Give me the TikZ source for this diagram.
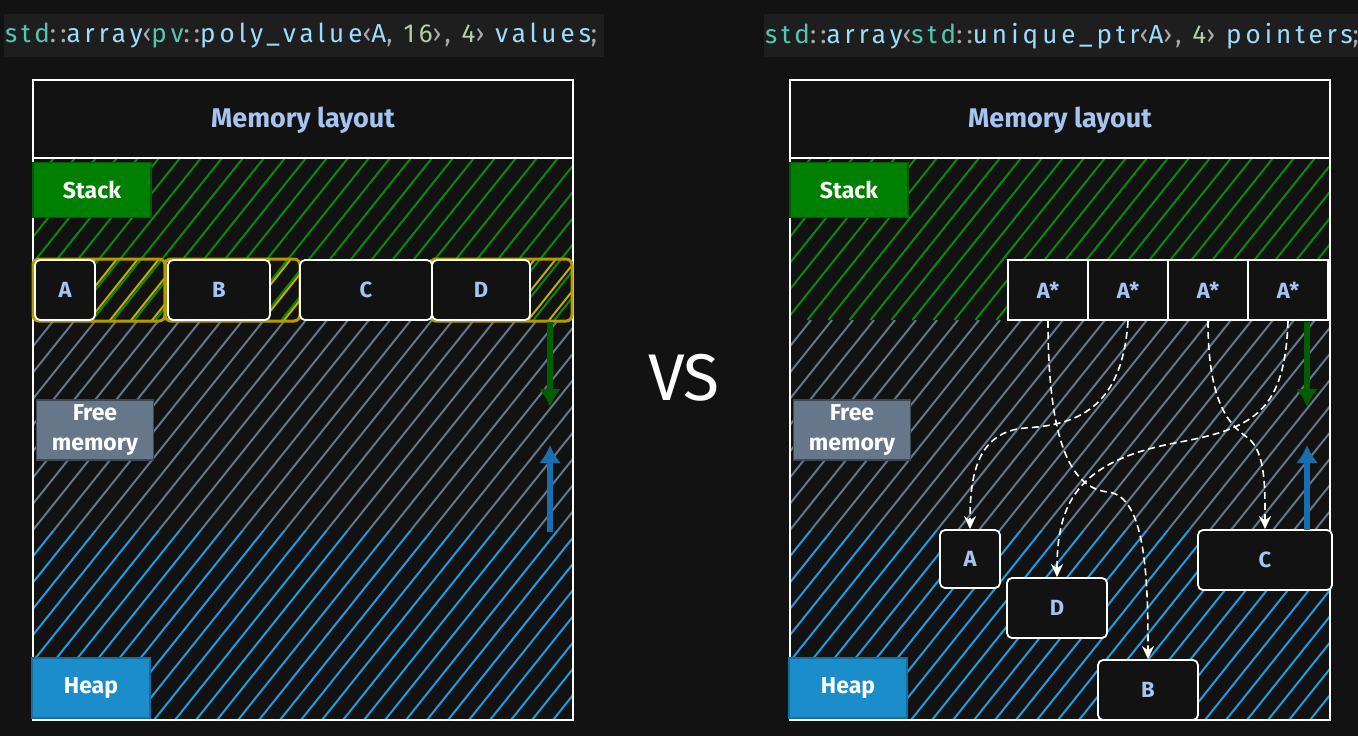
\documentclass[tikz,border=0pt]{standalone}
\usepackage{fontspec}
\setmainfont{Fira Sans}
\newfontfamily\codefont[LetterSpace=15.6]{Fira Sans}
\usetikzlibrary{arrows.meta,positioning}

\definecolor{bgdark}{HTML}{121212}
\definecolor{codebg}{HTML}{1E1E1E}
\definecolor{cteal}{HTML}{4EC9B0}
\definecolor{cblue}{HTML}{9CDCFE}
\definecolor{cnum}{HTML}{B5CEA8}
\definecolor{cpunct}{HTML}{A8A8A8}
\definecolor{lblblue}{HTML}{A5C4F0}
\definecolor{stackgreen}{HTML}{008000}
\definecolor{hatchgreen}{HTML}{0A8A0A}
\definecolor{freegrey}{HTML}{66778A}
\definecolor{heapblue}{HTML}{1E9DE0}
\definecolor{olive}{HTML}{B59A00}
\definecolor{upblue}{HTML}{1A6EAE}
\definecolor{downgreen}{HTML}{006000}

% diagonal strokes clipped to a box: colour, x1, y1, x2, y2
\newcommand{\hatchzone}[5]{%
  \begin{scope}
    \clip (#2,#3) rectangle (#4,#5);
    \pgfmathsetmacro{\hh}{#5-#3}
    \foreach \i in {0,...,40}
      \draw[#1, line width=2pt] ({#2-0.8*\hh+\i*21},#5) -- ++({0.8*\hh},{-\hh});
  \end{scope}}

\tikzset{
  frame/.style={draw=white, line width=1.6pt},
  lbl/.style={text=white, font=\bfseries\fontsize{23}{30}\selectfont, align=center, inner sep=0pt, line width=1.5pt},
  cell/.style={draw=white, line width=1.8pt, fill=bgdark, rounded corners=5pt, text=lblblue,
    font=\bfseries\fontsize{22}{26}\selectfont, inner sep=0pt, minimum height=60pt},
  ptrcell/.style={cell, rounded corners=0pt},
  slot/.style={draw=olive, line width=3pt, rounded corners=6pt},
  ptr/.style={draw=white, line width=1.6pt, dash pattern=on 7pt off 4pt, -{Stealth[length=13pt,width=12pt]}},
  growarrow/.style={line width=6pt, -{Latex[length=18pt,width=22pt]}},
  codeline/.style={anchor=west, inner sep=0pt, font=\codefont\fontsize{26}{30}\selectfont},
}

\begin{document}
\begin{tikzpicture}[x=1pt,y=-1pt]
  \useasboundingbox (0,0) rectangle (1358,736);
  \fill[bgdark] (0,0) rectangle (1358,736);

  % code lines
  \fill[codebg] (4,14) rectangle (604,57);
  \fill[codebg] (764,14) rectangle (1358,57);
  \node (codel) [codeline] at (5,36) {{\color{cteal}std}{\color{cpunct}::}{\color{cblue}array}{\color{cpunct}‹}{\color{cteal}pv}{\color{cpunct}::}{\color{cblue}poly\_value}{\color{cpunct}‹}{\color{cblue}A}{\color{cpunct},} {\color{cnum}16}{\color{cpunct}›,} {\color{cnum}4}{\color{cpunct}›} {\color{cblue}values}{\color{cpunct};}};
  \node (coder) [codeline] at (765,36) {{\color{cteal}std}{\color{cpunct}::}{\color{cblue}array}{\color{cpunct}‹}{\color{cteal}std}{\color{cpunct}::}{\color{cblue}unique\_ptr}{\color{cpunct}‹}{\color{cblue}A}{\color{cpunct}›,} {\color{cnum}4}{\color{cpunct}›} {\color{cblue}pointers}{\color{cpunct};}};

  % both memory panels
  \foreach \ox in {0,757} {
    \hatchzone{hatchgreen}{33+\ox}{158}{573+\ox}{320}
    \hatchzone{freegrey}{33+\ox}{320}{573+\ox}{530}
    \hatchzone{heapblue}{33+\ox}{530}{573+\ox}{720}
    \draw[frame] (33+\ox,80) rectangle (573+\ox,720);
    \draw[frame] (33+\ox,158) -- (573+\ox,158);
    \node (title\ox) [text=lblblue, font=\bfseries\fontsize{27}{30}\selectfont] at (303+\ox,120) {Memory layout};
    \node (stack\ox) [lbl, fill=stackgreen, draw=stackgreen!70!black, minimum width=118pt, minimum height=55pt] at (92+\ox,190) {Stack};
    \node (free\ox) [lbl, fill=freegrey, draw=freegrey!60!black, minimum width=117pt, minimum height=60pt] at (95+\ox,430) {Free\\memory};
    \node (heap\ox) [lbl, fill=heapblue!90!black, draw=heapblue!70!black, minimum width=118pt, minimum height=60pt] at (91+\ox,688) {Heap};
  }

  % left: values stored inline
  \hatchzone{olive!80!yellow}{33}{259}{165}{321}
  \hatchzone{olive!80!yellow}{165}{259}{300}{321}
  \hatchzone{olive!80!yellow}{430}{259}{572}{321}
  \draw[slot] (33,259) rectangle (165,321);
  \draw[slot] (165,259) rectangle (300,321);
  \draw[slot] (430,259) rectangle (572,321);
  \node (va) [cell, minimum width=60pt] at (65,290) {A};
  \node (vb) [cell, minimum width=102pt] at (219,290) {B};
  \node (vc) [cell, minimum width=132pt] at (366,290) {C};
  \node (vd) [cell, minimum width=98pt] at (481,290) {D};

  \coordinate (lgtop) at (550,322);
  \coordinate (lgend) at (550,407);
  \coordinate (lbbot) at (550,532);
  \coordinate (lbend) at (550,445);
  \draw[growarrow, downgreen] (lgtop) -- (lgend);
  \draw[growarrow, upblue] (lbbot) -- (lbend);

  \node (vs) [text=white, font=\fontsize{66}{66}\selectfont] at (684,378) {VS};

  % right: pointers to heap objects
  \node (pa1) [ptrcell, minimum width=80pt] at (1048,290) {A*};
  \node (pa2) [ptrcell, minimum width=80pt] at (1128,290) {A*};
  \node (pa3) [ptrcell, minimum width=80pt] at (1208,290) {A*};
  \node (pa4) [ptrcell, minimum width=80pt] at (1288,290) {A*};

  \node (ha) [cell, minimum width=60pt, minimum height=58pt] at (970,559) {A};
  \node (hd) [cell, minimum width=100pt] at (1057,608) {D};
  \node (hc) [cell, minimum width=134pt] at (1265,560) {C};
  \node (hb) [cell, minimum width=100pt] at (1148,690) {B};

  \coordinate (rgtop) at (1307,322);
  \coordinate (rgend) at (1307,407);
  \coordinate (rbbot) at (1307,530);
  \coordinate (rbend) at (1307,445);
  \draw[growarrow, downgreen] (rgtop) -- (rgend);
  \draw[growarrow, upblue] (rbbot) -- (rbend);

  \draw[ptr] (pa1.south) .. controls (1048,440) and (1070,488) .. (1108,492) .. controls (1146,496) and (1148,580) .. (hb.north);
  \draw[ptr] (pa2.south) .. controls (1122,410) and (1075,425) .. (1025,428) .. controls (975,432) and (970,480) .. (ha.north);
  \draw[ptr] (pa3.south) .. controls (1208,405) and (1230,425) .. (1248,438) .. controls (1266,452) and (1265,490) .. (hc.north);
  \draw[ptr] (pa4.south) .. controls (1285,410) and (1255,428) .. (1180,442) .. controls (1080,460) and (1057,500) .. (hd.north);
\end{tikzpicture}
\end{document}
